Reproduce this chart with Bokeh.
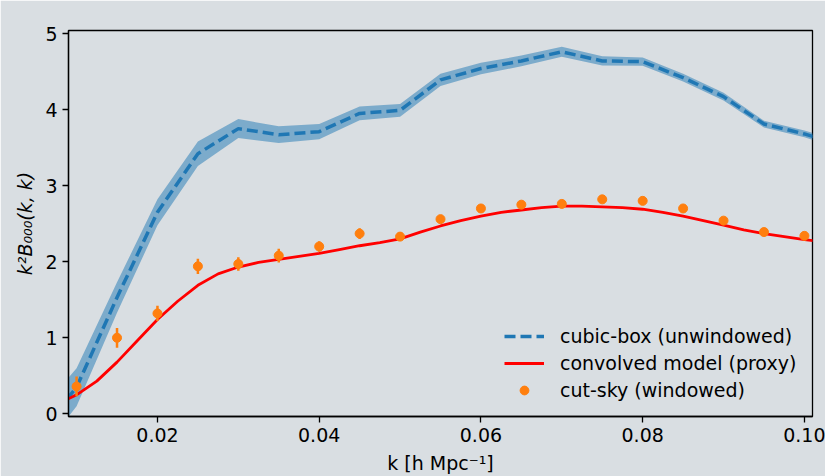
from bokeh.plotting import figure
from bokeh.models import Range1d, FixedTicker, Label, Legend, LegendItem, ColumnDataSource
from bokeh.embed import file_html
from bokeh.resources import INLINE

# Wavenumbers [h/Mpc] and monopole bispectrum k^2 B_000(k,k), in units of 1e6
k_box = [0.005, 0.010, 0.015, 0.020, 0.025, 0.030, 0.035, 0.040, 0.045, 0.050, 0.055,
         0.060, 0.065, 0.070, 0.075, 0.080, 0.085, 0.090, 0.095, 0.100, 0.105]
box_mean = [-0.30, 0.35, 1.53, 2.65, 3.42, 3.75, 3.67, 3.71, 3.95, 3.99, 4.39,
            4.54, 4.64, 4.76, 4.64, 4.63, 4.42, 4.17, 3.81, 3.68, 3.52]
box_err = [0.28, 0.25, 0.20, 0.17, 0.16, 0.125, 0.11, 0.10, 0.09, 0.085, 0.08,
           0.075, 0.07, 0.065, 0.06, 0.055, 0.05, 0.05, 0.045, 0.045, 0.045]

k_sky = [0.010, 0.015, 0.020, 0.025, 0.030, 0.035, 0.040, 0.045, 0.050, 0.055,
         0.060, 0.065, 0.070, 0.075, 0.080, 0.085, 0.090, 0.095, 0.100]
sky_mean = [0.36, 1.00, 1.32, 1.94, 1.97, 2.08, 2.20, 2.37, 2.33, 2.56,
            2.70, 2.75, 2.76, 2.82, 2.80, 2.70, 2.54, 2.39, 2.34]
sky_err = [0.13, 0.13, 0.10, 0.10, 0.09, 0.09, 0.07, 0.07, 0.05, 0.05,
           0.05, 0.05, 0.04, 0.04, 0.04, 0.04, 0.035, 0.035, 0.035]

k_model = [0.0075, 0.0100, 0.0125, 0.0150, 0.0175, 0.0200, 0.0225, 0.0250, 0.0275, 0.0300,
           0.0325, 0.0350, 0.0375, 0.0400, 0.0425, 0.0450, 0.0475, 0.0500, 0.0525, 0.0550,
           0.0575, 0.0600, 0.0625, 0.0650, 0.0675, 0.0700, 0.0725, 0.0750, 0.0775, 0.0800,
           0.0825, 0.0850, 0.0875, 0.0900, 0.0925, 0.0950, 0.0975, 0.1000, 0.1025]
model = [0.12, 0.25, 0.43, 0.68, 0.96, 1.24, 1.48, 1.69, 1.84, 1.93,
         1.99, 2.03, 2.07, 2.11, 2.16, 2.21, 2.25, 2.30, 2.39, 2.47,
         2.54, 2.60, 2.65, 2.68, 2.71, 2.73, 2.73, 2.72, 2.71, 2.69,
         2.65, 2.60, 2.54, 2.48, 2.42, 2.37, 2.33, 2.29, 2.26]

x_ticks = [0.02, 0.04, 0.06, 0.08, 0.10]
x_tick_labels = ["0.02", "0.04", "0.06", "0.08", "0.10"]
y_ticks = [0, 1, 2, 3, 4, 5]
y_tick_labels = ["0", "1", "2", "3", "4", "5"]

FONT = "DejaVu Sans"
FS = "19px"
BG = "#d9dee2"
BLUE = "#1f77b4"
ORANGE = "#ff7f0e"

box_src = ColumnDataSource(dict(
    k=k_box, mean=box_mean,
    lo=[m - e for m, e in zip(box_mean, box_err)],
    hi=[m + e for m, e in zip(box_mean, box_err)],
))
sky_src = ColumnDataSource(dict(
    k=k_sky, mean=sky_mean,
    lo=[m - e for m, e in zip(sky_mean, sky_err)],
    hi=[m + e for m, e in zip(sky_mean, sky_err)],
))
model_src = ColumnDataSource(dict(k=k_model, b=model))

p = figure(
    frame_width=744, frame_height=386,
    min_border_left=68, min_border_right=13, min_border_top=30, min_border_bottom=60,
    x_range=Range1d(0.009, 0.101), y_range=Range1d(-0.035, 5.04),
    output_backend="svg", toolbar_location=None,
    background_fill_color=BG, border_fill_color=BG,
)
p.grid.visible = False
p.outline_line_color = "black"
p.outline_line_width = 1.3
p.outline_line_alpha = 1.0

# cubic-box mean with its scatter band
p.varea(x="k", y1="lo", y2="hi", source=box_src, fill_color=BLUE, fill_alpha=0.5)
r_box = p.line(x="k", y="mean", source=box_src, line_color=BLUE, line_width=3.5,
               line_dash="11 5")

# convolved model
r_model = p.line(x="k", y="b", source=model_src, line_color="red", line_width=2.8,
                 line_join="round")

# cut-sky measurement with error bars
p.segment(x0="k", y0="lo", x1="k", y1="hi", source=sky_src, line_color=ORANGE, line_width=2.5)
r_sky = p.scatter(x="k", y="mean", source=sky_src, size=9, marker="circle",
                  fill_color=ORANGE, line_color=ORANGE)

for ax in (p.xaxis[0], p.yaxis[0]):
    ax.axis_line_width = 1.3
    ax.major_tick_line_width = 1.3
    ax.major_tick_out = 6
    ax.major_tick_in = 0
    ax.minor_tick_out = 0
    ax.minor_tick_in = 0
    ax.major_label_text_font = FONT
    ax.major_label_text_font_size = FS
    ax.major_label_text_color = "black"
    ax.axis_label_text_font = FONT
    ax.axis_label_text_font_size = FS
    ax.axis_label_text_color = "black"
    ax.major_label_standoff = 5

p.xaxis.ticker = FixedTicker(ticks=x_ticks)
p.xaxis.major_label_overrides = dict(zip(x_ticks, x_tick_labels))
p.xaxis.axis_label = "k [h Mpc\u207b\u00b9]"
p.xaxis.axis_label_text_font_style = "normal"
p.xaxis.axis_label_standoff = 7

p.yaxis.ticker = FixedTicker(ticks=y_ticks)
p.yaxis.major_label_overrides = dict(zip(y_ticks, y_tick_labels))
p.yaxis.axis_label = "k\u00b2B\u2080\u2080\u2080(k, k)"
p.yaxis.axis_label_text_font_style = "italic"
p.yaxis.axis_label_standoff = 6

# offset text for the y scale
p.add_layout(Label(x=0.009, y=5.04, text="1e6", x_offset=1, y_offset=5,
                   text_baseline="bottom", text_align="left",
                   text_font=FONT, text_font_size=FS, text_color="black"))

legend = Legend(
    items=[
        LegendItem(label="cubic-box (unwindowed)", renderers=[r_box]),
        LegendItem(label="convolved model (proxy)", renderers=[r_model]),
        LegendItem(label="cut-sky (windowed)", renderers=[r_sky]),
    ],
    location=(431, 10),
    label_text_font=FONT, label_text_font_size=FS, label_text_color="black",
    label_standoff=16, glyph_width=40, glyph_height=22, label_height=22,
    spacing=5, padding=5, margin=0,
    background_fill_alpha=0, border_line_alpha=0,
)
p.add_layout(legend)

open("out.html", "w").write(file_html(p, INLINE))
